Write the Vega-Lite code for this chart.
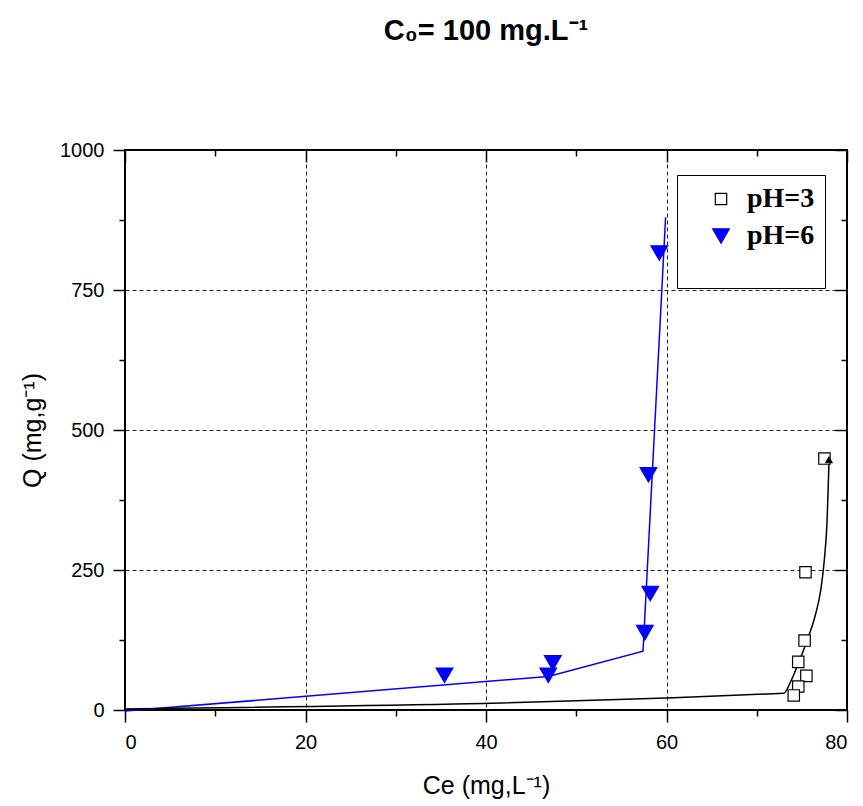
{
  "$schema": "https://vega.github.io/schema/vega-lite/v6.json",
  "width": 722,
  "height": 560,
  "autosize": {"type": "none"},
  "padding": {"left": 125, "top": 150, "right": 16, "bottom": 96},
  "background": "white",
  "title": {"text": "C₀= 100 mg.L⁻¹", "font": "Liberation Sans", "fontSize": 29, "fontWeight": "bold", "color": "black", "anchor": "middle", "offset": 94},
  "config": {
    "view": {"stroke": "black", "strokeWidth": 2},
    "legend": {
      "orient": "none", "legendX": 552, "legendY": 25, "padding": 10,
      "strokeColor": "black", "fillColor": "white",
      "labelFont": "Liberation Serif", "labelFontSize": 28, "labelFontWeight": "bold", "labelColor": "black",
      "symbolStrokeWidth": 1.2, "rowPadding": 9, "symbolOffset": 20, "labelOffset": 12,
      "titleOrient": "bottom", "titleFont": "Liberation Serif", "titleFontSize": 16, "titlePadding": 12
    }
  },
  "data": {
    "values": [
      {"s": "pH=3", "k": "line", "ce": 0, "q": 2},
      {"s": "pH=3", "k": "line", "ce": 73.0, "q": 30},
      {"s": "pH=3", "k": "line", "ce": 73.8, "q": 52},
      {"s": "pH=3", "k": "line", "ce": 74.6, "q": 83},
      {"s": "pH=3", "k": "line", "ce": 75.6, "q": 125},
      {"s": "pH=3", "k": "line", "ce": 76.5, "q": 170},
      {"s": "pH=3", "k": "line", "ce": 77.1, "q": 215},
      {"s": "pH=3", "k": "line", "ce": 77.5, "q": 270},
      {"s": "pH=3", "k": "line", "ce": 77.8, "q": 340},
      {"s": "pH=3", "k": "line", "ce": 78.0, "q": 440},
      {"s": "pH=6", "k": "line", "ce": 0, "q": -2},
      {"s": "pH=6", "k": "line", "ce": 46.9, "q": 60},
      {"s": "pH=6", "k": "line", "ce": 57.4, "q": 105},
      {"s": "pH=6", "k": "line", "ce": 59.9, "q": 880},
      {"s": "pH=3", "k": "arrow", "ce": 78.0, "q": 447},
      {"s": "pH=3", "k": "point", "ce": 77.5, "q": 449},
      {"s": "pH=3", "k": "point", "ce": 75.4, "q": 246},
      {"s": "pH=3", "k": "point", "ce": 75.3, "q": 124},
      {"s": "pH=3", "k": "point", "ce": 74.6, "q": 86},
      {"s": "pH=3", "k": "point", "ce": 75.5, "q": 61},
      {"s": "pH=3", "k": "point", "ce": 74.6, "q": 42},
      {"s": "pH=3", "k": "point", "ce": 74.1, "q": 26},
      {"s": "pH=6", "k": "point", "ce": 35.4, "q": 62},
      {"s": "pH=6", "k": "point", "ce": 46.9, "q": 62},
      {"s": "pH=6", "k": "point", "ce": 47.4, "q": 84},
      {"s": "pH=6", "k": "point", "ce": 57.6, "q": 138},
      {"s": "pH=6", "k": "point", "ce": 58.2, "q": 208},
      {"s": "pH=6", "k": "point", "ce": 58.0, "q": 420},
      {"s": "pH=6", "k": "point", "ce": 59.2, "q": 816}
    ]
  },
  "resolve": {"axis": {"x": "independent", "y": "independent"}},
  "layer": [
    {
      "transform": [{"filter": "datum.k === 'line' && datum.s === 'pH=6'"}],
      "mark": {"type": "line", "strokeWidth": 1.5, "color": "blue"},
      "encoding": {
        "x": {
          "field": "ce", "type": "quantitative", "scale": {"domain": [0, 80], "nice": false, "zero": false},
          "axis": {
            "orient": "bottom", "values": [0, 10, 20, 30, 40, 50, 60, 70, 80],
            "labelExpr": "datum.value % 20 === 0 ? datum.label : ''",
            "title": "Ce (mg,L⁻¹)",
            "tickSize": {"condition": {"test": "datum.value % 20 === 0", "value": 12}, "value": 6},
            "tickColor": "black", "tickWidth": 1.5, "domain": false,
            "grid": true, "gridDash": [4, 3], "gridColor": "#222", "gridWidth": 1,
            "gridOpacity": {"condition": {"test": "datum.value % 20 === 0 && datum.value > 0 && datum.value < 80", "value": 1}, "value": 0},
            "labelFont": "Liberation Sans", "labelFontSize": 20, "labelColor": "black", "labelPadding": 10,
            "titleFont": "Liberation Sans", "titleFontSize": 25, "titleFontWeight": "normal", "titleColor": "black", "titlePadding": 21
          }
        },
        "y": {
          "field": "q", "type": "quantitative", "scale": {"domain": [0, 1000], "nice": false, "zero": false},
          "axis": {
            "orient": "left", "values": [0, 125, 250, 375, 500, 625, 750, 875, 1000],
            "labelExpr": "datum.value % 250 === 0 ? datum.label : ''",
            "format": "d",
            "title": "Q (mg,g⁻¹)",
            "tickSize": {"condition": {"test": "datum.value % 250 === 0", "value": 12}, "value": 6},
            "tickColor": "black", "tickWidth": 1.5, "domain": false,
            "grid": true, "gridDash": [4, 3], "gridColor": "#222", "gridWidth": 1,
            "gridOpacity": {"condition": {"test": "datum.value % 250 === 0 && datum.value > 0 && datum.value < 1000", "value": 1}, "value": 0},
            "labelFont": "Liberation Sans", "labelFontSize": 20, "labelColor": "black", "labelPadding": 9,
            "titleFont": "Liberation Sans", "titleFontSize": 25, "titleFontWeight": "normal", "titleColor": "black", "titlePadding": 14
          }
        }
      }
    },
    {
      "transform": [{"filter": "datum.k === 'line' && datum.s === 'pH=3'"}],
      "mark": {"type": "line", "strokeWidth": 1.5, "color": "black", "interpolate": "monotone"},
      "encoding": {
        "x": {"field": "ce", "type": "quantitative", "axis": null},
        "y": {"field": "q", "type": "quantitative", "axis": null}
      }
    },
    {
      "transform": [{"filter": "datum.k === 'point'"}],
      "mark": {"type": "point", "fillOpacity": 1, "strokeWidth": 1.2, "opacity": 1},
      "encoding": {
        "x": {"field": "ce", "type": "quantitative", "axis": null},
        "y": {"field": "q", "type": "quantitative", "axis": null},
        "shape": {"field": "s", "type": "nominal", "title": "                        ", "scale": {"domain": ["pH=3", "pH=6"], "range": ["square", "triangle-down"]}},
        "fill": {"field": "s", "type": "nominal", "title": "                        ", "scale": {"domain": ["pH=3", "pH=6"], "range": ["white", "blue"]}},
        "stroke": {"field": "s", "type": "nominal", "title": "                        ", "scale": {"domain": ["pH=3", "pH=6"], "range": ["black", "blue"]}},
        "size": {"field": "s", "type": "nominal", "title": "                        ", "scale": {"type": "ordinal", "domain": ["pH=3", "pH=6"], "range": [130, 280]}}
      }
    },
    {
      "transform": [{"filter": "datum.k === 'arrow'"}],
      "mark": {"type": "point", "shape": "triangle-up", "filled": true, "color": "black", "size": 70, "opacity": 1},
      "encoding": {
        "x": {
          "field": "ce", "type": "quantitative",
          "axis": {
            "orient": "top", "values": [0, 10, 20, 30, 40, 50, 60, 70, 80], "labels": false, "title": null, "grid": false, "domain": false,
            "tickColor": "black", "tickWidth": 1.5,
            "tickSize": {"condition": {"test": "datum.value % 20 === 0", "value": -12}, "value": -6}
          }
        },
        "y": {
          "field": "q", "type": "quantitative",
          "axis": {
            "orient": "right", "values": [0, 125, 250, 375, 500, 625, 750, 875, 1000], "labels": false, "title": null, "grid": false, "domain": false,
            "tickColor": "black", "tickWidth": 1.5,
            "tickSize": {"condition": {"test": "datum.value % 250 === 0", "value": -12}, "value": -6}
          }
        }
      }
    }
  ]
}
